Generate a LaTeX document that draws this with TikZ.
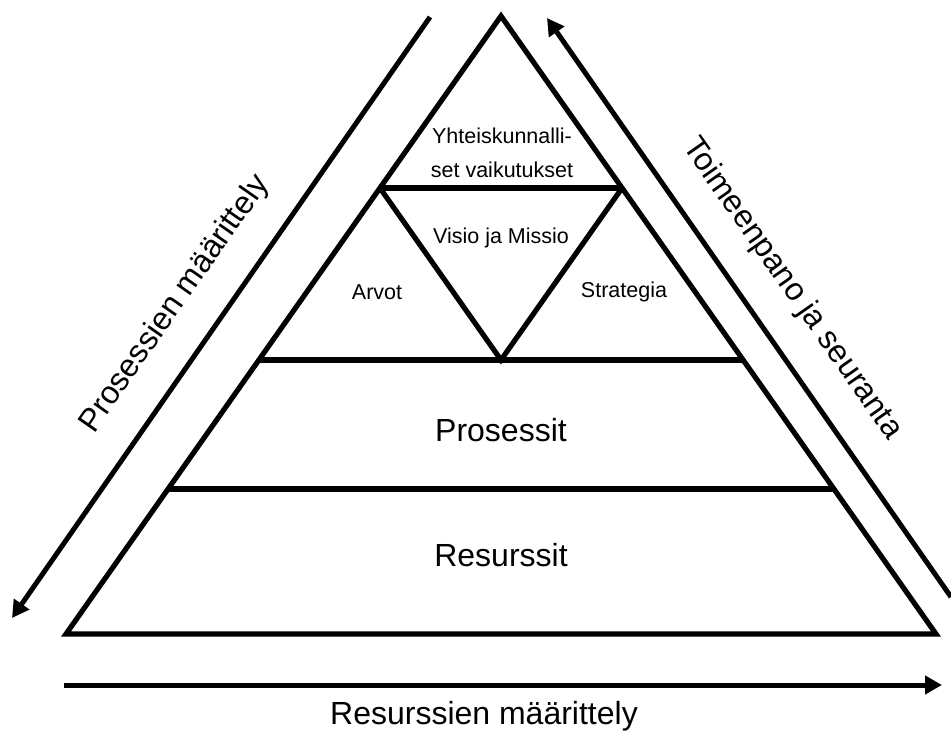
\documentclass[tikz,border=0pt]{standalone}
\usepackage{fontspec}
\setmainfont{Liberation Sans}
\usetikzlibrary{calc,arrows.meta}
\begin{document}
\begin{tikzpicture}[x=1pt,y=-1pt,
  edge/.style={line width=5.2pt,line join=miter},
  flow/.style={line width=5pt,-{Triangle[length=17pt,width=18pt]}},
  small/.style={font=\fontsize{21.5}{34}\selectfont,align=center,inner sep=0pt},
  big/.style={font=\fontsize{32}{36}\selectfont,inner sep=0pt}]
\useasboundingbox (0,0) rectangle (951,731);
% pyramid corners
\coordinate (A) at (501,16);
\coordinate (BL) at (66,634);
\coordinate (BR) at (936,634);
% level points on the sides
\coordinate (L1) at ($(A)!0.2783!(BL)$);
\coordinate (R1) at ($(A)!0.2783!(BR)$);
\coordinate (L2) at ($(A)!0.5566!(BL)$);
\coordinate (R2) at ($(A)!0.5566!(BR)$);
\coordinate (L3) at ($(A)!0.7654!(BL)$);
\coordinate (R3) at ($(A)!0.7654!(BR)$);
\coordinate (M2) at ($(L2)!0.5!(R2)$);
% outer triangle and levels
\draw[edge] (A) -- (BL) -- (BR) -- cycle;
\draw[edge] (L1) -- (R1);
\draw[edge] (L2) -- (R2);
\draw[edge] (L3) -- (R3);
\draw[edge] (L1) -- (M2) -- (R1);
% arrows
\coordinate (p1) at (430,17);
\coordinate (p2) at (12,618);
\coordinate (q1) at (951,597);
\coordinate (q2) at (547,18);
\coordinate (r1) at (64,685);
\coordinate (r2) at (942,685);
\draw[flow] (p1) -- (p2);
\draw[flow] (q1) -- (q2);
\draw[flow] (r1) -- (r2);
% labels
\node[small] (yht) at (502,153) {Yhteiskunnalli-\\set vaikutukset};
\node[small] (vis) at (501,238) {Visio ja Missio};
\node[small] (arv) at (377,292) {Arvot};
\node[small] (str) at (624,292) {Strategia};
\node[big] (pro) at (501,430) {Prosessit};
\node[big] (res) at (501,555) {Resurssit};
\node[big] (resm) at (484,716) {Resurssien määrittely};
\node[big,rotate=55] (prom) at (175,304) {Prosessien määrittely};
\node[big,rotate=-55] (toi) at (792,289) {Toimeenpano ja seuranta};
\end{tikzpicture}
\end{document}
